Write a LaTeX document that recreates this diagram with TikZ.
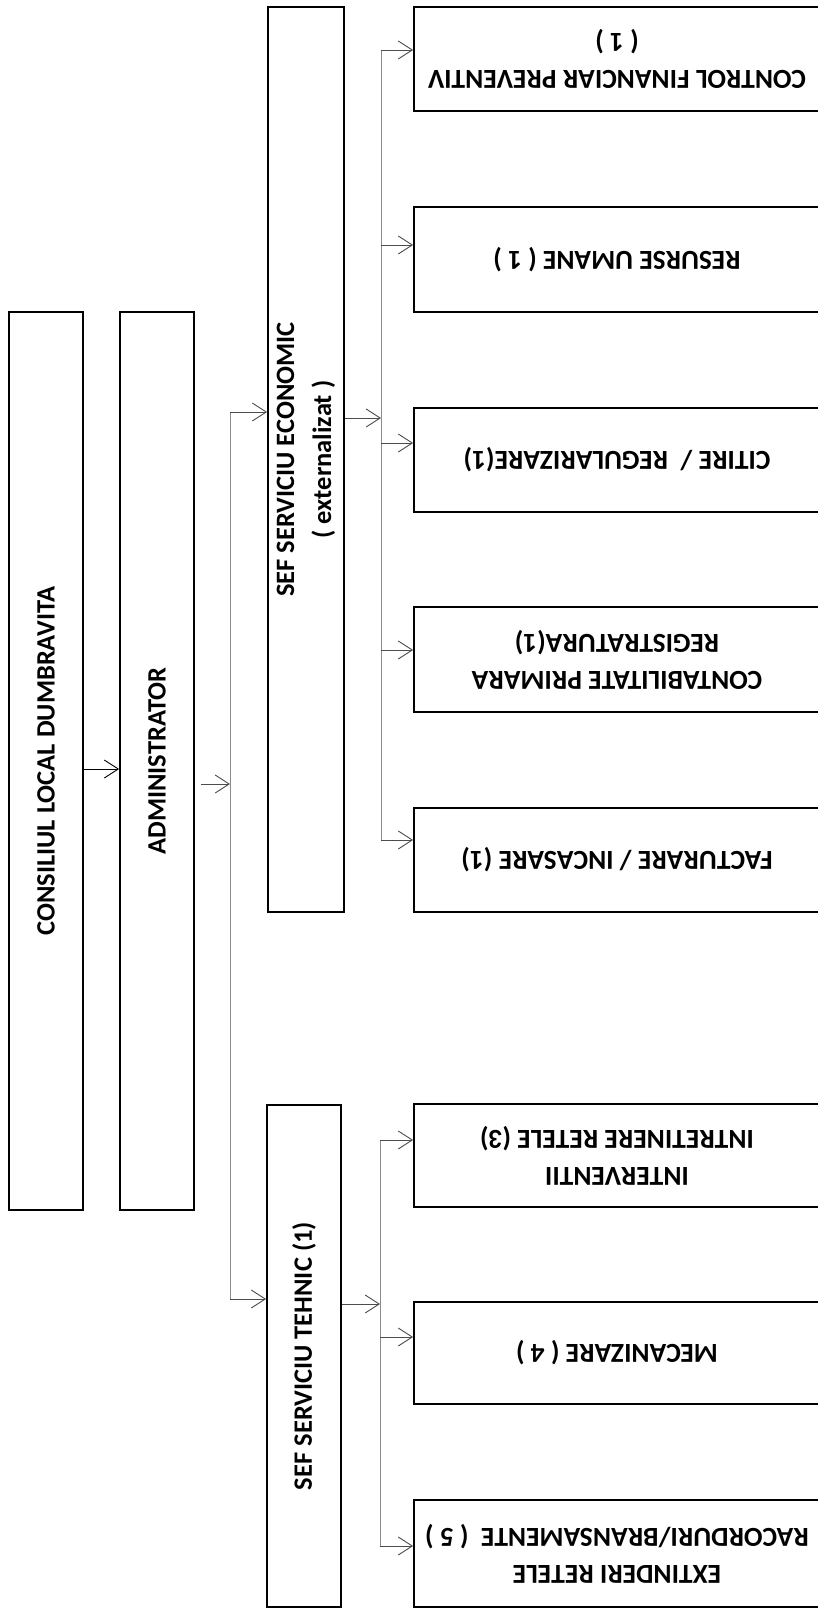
\documentclass[tikz,border=0pt]{standalone}
\usepackage{fontspec}
\setmainfont{Carlito}
\usetikzlibrary{arrows.meta}
\begin{document}
\begin{tikzpicture}[x=1pt,y=-1pt]
\tikzset{
  box/.style={draw=black, line width=1.8pt, inner sep=0pt},
  txt/.style={font=\fontsize{26.5}{37}\selectfont\bfseries, align=center, text=black, inner sep=0pt},
  rtxt/.style={font=\fontsize{27.5}{37}\selectfont\bfseries, align=center, text=black, inner sep=0pt, rotate=180},
  conn/.style={draw=black!70, line width=0.9pt},
  bus/.style={draw=black!45, line width=0.9pt},
  arr/.style={-{Straight Barb[length=14pt,width=18pt,line width=0.9pt]}},
}
\useasboundingbox (0,0) rectangle (818,1609);
\clip (0,0) rectangle (818,1609);
\fill[white] (0,0) rectangle (818,1609);

% main vertical boxes
\node[box, minimum width=74pt, minimum height=898pt] (cons) at (46,761) {};
\node[txt, rotate=90] (consT) at (cons.center) {CONSILIUL LOCAL DUMBRAVITA};
\node[box, minimum width=74pt, minimum height=898pt] (admin) at (157,761) {};
\node[txt, rotate=90] (adminT) at (admin.center) {ADMINISTRATOR};
\node[box, minimum width=76pt, minimum height=905pt] (econ) at (306,459.5) {};
\node[txt, rotate=90] (econT) at (econ.center) {SEF SERVICIU ECONOMIC\\( externalizat )};
\node[box, minimum width=74pt, minimum height=502pt] (teh) at (304,1356) {};
\node[txt, rotate=90] (tehT) at (teh.center) {SEF SERVICIU TEHNIC (1)};

% right boxes
\node[box, minimum width=406pt, minimum height=104pt] (r1) at (617,59) {};
\node[rtxt] at (r1.center) {CONTROL FINANCIAR PREVENTIV\\( 1 )};
\node[box, minimum width=406pt, minimum height=105pt] (r2) at (617,259.5) {};
\node[rtxt] at (r2.center) {RESURSE UMANE ( 1 )};
\node[box, minimum width=406pt, minimum height=104pt] (r3) at (617,460) {};
\node[rtxt] at (r3.center) {CITIRE /\ \ REGULARIZARE(1)};
\node[box, minimum width=406pt, minimum height=105pt] (r4) at (617,659.5) {};
\node[rtxt] at (r4.center) {CONTABILITATE PRIMARA\\REGISTRATURA(1)};
\node[box, minimum width=406pt, minimum height=104pt] (r5) at (617,860) {};
\node[rtxt] at (r5.center) {FACTURARE / INCASARE (1)};
\node[box, minimum width=406pt, minimum height=103pt] (r6) at (617,1155.5) {};
\node[rtxt] at (r6.center) {INTERVENTII\\INTRETINERE RETELE (3)};
\node[box, minimum width=406pt, minimum height=102pt] (r7) at (617,1353) {};
\node[rtxt] at (r7.center) {MECANIZARE ( 4 )};
\node[box, minimum width=406pt, minimum height=107pt] (r8) at (617,1553.5) {};
\node[rtxt] at (r8.center) {EXTINDERI RETELE\\RACORDURI/BRANSAMENTE\ \ ( 5 )};

% coordinates for connectors
\coordinate (busA) at (230,784);
\coordinate (busT) at (230,412);
\coordinate (busB) at (230,1299);
\coordinate (ebA) at (381,418);
\coordinate (ebT) at (381,50);
\coordinate (e2) at (381,245);
\coordinate (e3) at (381,443);
\coordinate (e4) at (381,650);
\coordinate (ebB) at (381,840);
\coordinate (tbA) at (380,1304);
\coordinate (tbT) at (380,1140);
\coordinate (t7) at (380,1337);
\coordinate (tbB) at (380,1546);

% connectors
\draw[conn, draw=black, arr] ([yshift=-8pt]cons.east) -- ([yshift=-8pt]admin.west);
\draw[conn, arr] ([xshift=6pt,yshift=-23pt]admin.east) -- (busA);
\draw[bus] (busT) -- (busB);
\draw[conn, arr] (busT) -- (econ.west |- busT);
\draw[conn, arr] (busB) -- (teh.west |- busB);

\draw[conn, arr] (econ.east |- ebA) -- (ebA);
\draw[bus] (ebT) -- (ebB);
\draw[conn, arr] (ebT) -- (r1.west |- ebT);
\draw[conn, arr] (e2) -- (r2.west |- e2);
\draw[conn, arr] (e3) -- (r3.west |- e3);
\draw[conn, arr] (e4) -- (r4.west |- e4);
\draw[conn, arr] (ebB) -- (r5.west |- ebB);

\draw[conn, arr] (teh.east |- tbA) -- (tbA);
\draw[bus] (tbT) -- (tbB);
\draw[conn, arr] (tbT) -- (r6.west |- tbT);
\draw[conn, arr] (t7) -- (r7.west |- t7);
\draw[conn, arr] (tbB) -- (r8.west |- tbB);
\end{tikzpicture}
\end{document}
